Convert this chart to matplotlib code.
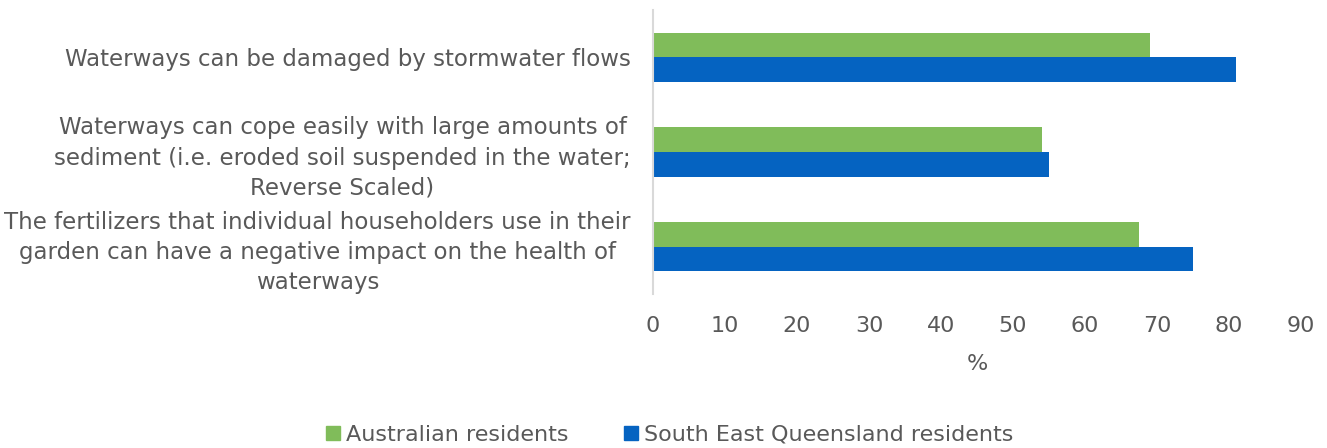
import numpy as np
import matplotlib
matplotlib.use('Agg')
import matplotlib.pyplot as plt
from matplotlib.patches import Patch

categories = [
    'Waterways can be damaged by stormwater flows',
    'Waterways can cope easily with large amounts of\nsediment (i.e. eroded soil suspended in the water;\nReverse Scaled)',
    'The fertilizers that individual householders use in their\ngarden can have a negative impact on the health of\nwaterways',
]
series_names = ['Australian residents', 'South East Queensland residents']
australia = [69, 54, 67.5]
seq = [81, 55, 75]
xticks = [0, 10, 20, 30, 40, 50, 60, 70, 80, 90]

GREEN = '#80BC5A'
BLUE = '#0563C1'
TEXT = '#595959'
FS = 16

plt.rcParams['font.family'] = ['DejaVu Sans']

fig = plt.figure(figsize=(13.27, 4.48), dpi=100)
ax = fig.add_axes([653 / 1327, 1 - 294 / 448, (1301 - 653) / 1327, (294 - 10) / 448])

y = np.arange(len(categories))
h = 0.259
ax.barh(y - h / 2, australia, height=h, color=GREEN, label=series_names[0])
ax.barh(y + h / 2, seq, height=h, color=BLUE, label=series_names[1])

ax.set_ylim(len(categories) - 0.5, -0.5)
ax.set_xlim(0, 90)
ax.set_xticks(xticks)
ax.set_yticks(y)
ax.set_yticklabels(categories, fontsize=16.5, color=TEXT)
for lbl in ax.get_yticklabels():
    lbl.set_multialignment('center')
    lbl.set_linespacing(1.4)
ax.tick_params(axis='x', length=0, labelsize=FS, labelcolor=TEXT, pad=16)
ax.tick_params(axis='y', length=0, pad=16)

for side in ['top', 'right', 'bottom']:
    ax.spines[side].set_visible(False)
ax.spines['left'].set_color('#D9D9D9')
ax.spines['left'].set_linewidth(1.5)

ax.set_xlabel('%', fontsize=FS, color=TEXT, labelpad=13)

handles = [Patch(color=GREEN), Patch(color=BLUE)]
fig.legend(handles, series_names, loc='center', bbox_to_anchor=(0.505, 0.03),
           ncol=2, frameon=False, fontsize=FS, labelcolor=TEXT,
           handlelength=0.6, handleheight=0.6, handletextpad=0.3, columnspacing=2.5)

fig.savefig('out.png', dpi=100)
